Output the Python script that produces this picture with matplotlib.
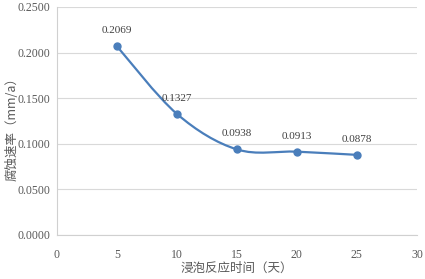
import numpy as np
import matplotlib.pyplot as plt
from matplotlib.path import Path
from matplotlib.patches import PathPatch

# data
days = [5, 10, 15, 20, 25]
rate = [0.2069, 0.1327, 0.0938, 0.0913, 0.0878]
labels = ['0.2069', '0.1327', '0.0938', '0.0913', '0.0878']

x_ticks = [0, 5, 10, 15, 20, 25, 30]
y_ticks = [0.0, 0.05, 0.10, 0.15, 0.20, 0.25]

line_color = '#4a7ebb'
text_color = '#595959'
serif = ['Liberation Serif', 'Noto Sans CJK SC']
cjk = ['Noto Sans CJK SC', 'Liberation Serif']

fig = plt.figure(figsize=(4.25, 2.79), dpi=100)
ax = fig.add_axes([0.134, 0.158, 0.847, 0.817])

# smooth line like Excel (Catmull-Rom as bezier segments)
pts = np.column_stack([days, rate])
verts = [tuple(pts[0])]
codes = [Path.MOVETO]
n = len(pts)
for i in range(n - 1):
    p0 = pts[i - 1] if i > 0 else pts[i]
    p1 = pts[i]
    p2 = pts[i + 1]
    p3 = pts[i + 2] if i + 2 < n else pts[i + 1]
    c1 = p1 + (p2 - p0) / 6
    c2 = p2 - (p3 - p1) / 6
    verts += [tuple(c1), tuple(c2), tuple(p2)]
    codes += [Path.CURVE4] * 3
ax.add_patch(PathPatch(Path(verts, codes), fill=False, edgecolor=line_color,
                       lw=1.6, zorder=3))
ax.plot(days, rate, 'o', color=line_color, markersize=5, zorder=4)

for xd, yd, t in zip(days, rate, labels):
    ax.annotate(t, (xd, yd), xytext=(0, 8), textcoords='offset points',
                ha='center', va='bottom', fontsize=8, color='#404040',
                family=serif)

ax.set_xlim(0, 30)
ax.set_ylim(0, 0.25)
ax.set_xticks(x_ticks)
ax.set_yticks(y_ticks)
ax.set_xticklabels([str(v) for v in x_ticks], family=serif, fontsize=8.5, color=text_color)
ax.set_yticklabels(['%.4f' % v for v in y_ticks], family=serif, fontsize=8.5, color=text_color)
ax.tick_params(axis='y', length=0, pad=5)
ax.tick_params(axis='x', length=0, pad=10)

ax.grid(axis='y', color='#d9d9d9', lw=0.8)
ax.set_axisbelow(True)
for s in ['top', 'right']:
    ax.spines[s].set_visible(False)
for s in ['left', 'bottom']:
    ax.spines[s].set_color('#d0d0d0')
    ax.spines[s].set_linewidth(0.8)

fig.text(0.557, 0.039, '浸泡反应时间（天）', family=cjk, fontsize=9,
         color=text_color, ha='center', va='center')
fig.text(0.028, 0.548, '腐蚀速率（mm/a）', family=cjk, fontsize=9,
         color=text_color, ha='center', va='center', rotation=90)

fig.savefig('out.png', dpi=100)
